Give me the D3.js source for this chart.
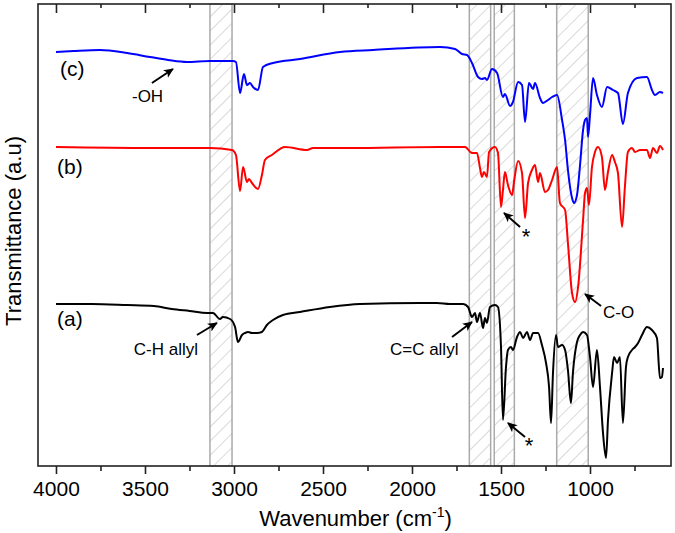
<!DOCTYPE html>
<html><head><meta charset="utf-8">
<script src="https://cdn.jsdelivr.net/npm/d3@7"></script>
<style>body{margin:0;background:#fff}svg{display:block}text{font-family:Arial,"Liberation Sans",sans-serif}</style>
</head><body><div id="chart"></div>
<script>
// wavenumber (cm-1), transmittance (arbitrary units, offset per spectrum)
const spectrumC = [[4000,414],[3900,415],[3753,416],[3600,413],[3472,409],[3370,406],[3264,404],[3135,405],[3006,405],[2989,404],[2966,373],[2944,392],[2927,381],[2910,383],[2893,379],[2865,376],[2837,399],[2781,403],[2629,407],[2404,414],[2219,416],[1843,419],[1758,417],[1719,412],[1691,411],[1663,403],[1629,389],[1607,387],[1590,388],[1579,386],[1551,397],[1522,393],[1489,369],[1478,372],[1449,360],[1433,364],[1404,384],[1382,381],[1365,344],[1343,383],[1320,377],[1309,383],[1281,368],[1264,363],[1236,366],[1213,369],[1185,371],[1157,346],[1140,326],[1124,296],[1101,268],[1090,263],[1073,271],[1056,301],[1039,336],[1028,346],[1017,348],[1011,329],[1000,351],[983,388],[961,371],[933,359],[904,379],[871,376],[843,373],[815,342],[787,373],[736,388],[680,389],[652,376],[635,371],[607,374],[590,373]];
const spectrumB = [[4000,319],[3472,318],[3135,318],[3011,316],[2989,311],[2966,275],[2949,299],[2927,284],[2916,287],[2899,283],[2865,277],[2843,291],[2826,306],[2787,311],[2713,319],[2590,316],[2556,318],[2348,318],[1843,319],[1702,319],[1663,313],[1635,313],[1618,298],[1607,289],[1596,294],[1579,289],[1567,314],[1534,319],[1517,313],[1500,259],[1489,276],[1478,294],[1461,281],[1438,271],[1427,284],[1404,305],[1382,293],[1365,248],[1348,283],[1326,296],[1309,301],[1292,284],[1281,293],[1253,274],[1236,276],[1213,286],[1185,299],[1169,263],[1140,256],[1124,223],[1101,173],[1084,164],[1067,179],[1039,246],[1028,273],[1017,278],[1006,261],[989,299],[972,314],[955,319],[933,309],[916,276],[899,294],[876,311],[860,304],[843,293],[820,239],[804,279],[787,314],[764,318],[747,314],[719,316],[680,316],[663,308],[646,318],[624,313],[607,320],[590,316]];
const spectrumA = [[4000,162],[3800,162],[3600,161],[3450,160],[3350,157],[3250,155],[3150,153],[3118,153],[3079,147],[3062,149],[3022,147],[2994,139],[2978,124],[2955,131],[2938,133],[2921,134],[2899,133],[2871,133],[2843,134],[2815,141],[2781,146],[2725,151],[2629,154],[2461,159],[2292,162],[1955,163],[1860,163],[1787,162],[1713,162],[1685,159],[1663,149],[1646,153],[1635,144],[1618,153],[1601,138],[1590,148],[1579,143],[1562,159],[1534,161],[1517,159],[1500,119],[1489,46],[1472,99],[1461,116],[1444,119],[1433,116],[1410,129],[1393,134],[1376,128],[1354,134],[1337,126],[1320,133],[1292,133],[1270,121],[1247,103],[1230,79],[1219,43],[1208,93],[1191,131],[1180,119],[1157,121],[1140,116],[1124,96],[1107,63],[1096,93],[1073,124],[1056,131],[1039,134],[1017,131],[1000,109],[983,79],[961,116],[944,79],[927,33],[910,8],[899,46],[876,93],[865,109],[848,103],[832,109],[815,43],[798,99],[787,109],[764,116],[747,119],[730,123],[708,131],[680,139],[652,136],[624,128],[607,88],[596,89],[590,98]];
const seriesColors = ["#0000ff","#ff0000","#000000"];
const bands = [[3135,3011],[1678,1558],[1538,1425],[1187,1010]];
const majorTicks = [4000,3500,3000,2500,2000,1500,1000];
const minorTicks = [3750,3250,2750,2250,1750,1250,750];
const seriesLabels = [{t:"(c)",wn:3978,v:390},{t:"(b)",wn:3994,v:292},{t:"(a)",wn:3994,v:140}];
const annotations = [
  {t:"-OH", tx:3573, tv:364, anchor:"start", fs:17, a:[3461,383,3343,397]},
  {t:"C-H allyl", tx:3202, tv:111, anchor:"end", fs:17, a:[3208,131,3096,143]},
  {t:"C=C allyl", tx:2124, tv:111, anchor:"start", fs:17, a:[1775,129,1663,144]},
  {t:"*", tx:1360, tv:222, anchor:"middle", fs:22, a:[1393,239,1483,253]},
  {t:"*", tx:1343, tv:13, anchor:"middle", fs:22, a:[1365,29,1461,43]},
  {t:"C-O", tx:927, tv:148, anchor:"start", fs:17, a:[938,160,1028,172]}
];

const W=675,H=533, L=38,R=671,T=4,B=466;
const svg = d3.select("#chart").append("svg").attr("width",W).attr("height",H);
const x = d3.scaleLinear().domain([4101,545]).range([L,R]);
const y = d3.scaleLinear().domain([0,462]).range([B,T]);

const defs = svg.append("defs");
const pat = defs.append("pattern").attr("id","hatch").attr("patternUnits","userSpaceOnUse")
  .attr("width",10).attr("height",10).attr("patternTransform","rotate(45)");
pat.append("rect").attr("width",10).attr("height",10).attr("fill","#fff");
pat.append("line").attr("x1",0).attr("y1",0).attr("x2",0).attr("y2",10).attr("stroke","#b4b4b4").attr("stroke-width",1);
defs.append("marker").attr("id","arr").attr("viewBox","0 0 10 10").attr("refX",9).attr("refY",5)
  .attr("markerWidth",10).attr("markerHeight",10).attr("markerUnits","userSpaceOnUse").attr("orient","auto")
  .append("path").attr("d","M0,0.5 L10,5 L0,9.5 L2.5,5 z").attr("fill","#000");

// bands
svg.append("g").selectAll("rect").data(bands).join("rect")
  .attr("x",d=>x(d[0])).attr("width",d=>x(d[1])-x(d[0])).attr("y",T).attr("height",B-T)
  .attr("fill","url(#hatch)").attr("stroke","#aaaaaa").attr("stroke-width",1.5);

// spectra
const line = d3.line().x(d=>x(d[0])).y(d=>y(d[1])).curve(d3.curveMonotoneX);
[spectrumC,spectrumB,spectrumA].forEach((s,i)=>{
  svg.append("path").datum(s).attr("d",line).attr("fill","none")
    .attr("stroke",seriesColors[i]).attr("stroke-width",2).attr("stroke-linejoin","round");
});

// frame
svg.append("rect").attr("x",L).attr("y",T).attr("width",R-L).attr("height",B-T)
  .attr("fill","none").attr("stroke","#222").attr("stroke-width",1.6);

// bottom axis (outward ticks)
const gB = svg.append("g").attr("transform",`translate(0,${B})`);
gB.call(d3.axisBottom(x).tickValues(majorTicks).tickSize(8).tickPadding(7).tickFormat(d3.format("d")));
gB.append("g").call(d3.axisBottom(x).tickValues(minorTicks).tickSize(5).tickFormat(""));
gB.selectAll(".domain").remove();
gB.selectAll("line").attr("stroke","#222").attr("stroke-width",1.6);
gB.selectAll("text").attr("font-size",21).attr("fill","#000").attr("font-family",'Arial,"Liberation Sans",sans-serif');
// top axis (inward ticks)
const gT = svg.append("g").attr("transform",`translate(0,${T})`);
gT.call(d3.axisBottom(x).tickValues(majorTicks).tickSize(9).tickFormat(""));
gT.append("g").call(d3.axisBottom(x).tickValues(minorTicks).tickSize(4).tickFormat(""));
gT.selectAll(".domain").remove();
gT.selectAll("line").attr("stroke","#222").attr("stroke-width",1.6);

// axis titles
const xt = svg.append("text").attr("x",(L+R)/2+1).attr("y",526).attr("text-anchor","middle").attr("font-size",22);
xt.append("tspan").text("Wavenumber (cm");
xt.append("tspan").text("-1").attr("font-size",14).attr("dy",-9);
xt.append("tspan").text(")").attr("dy",9);
svg.append("text").attr("transform","translate(21,231) rotate(-90)").attr("text-anchor","middle")
  .attr("font-size",22).text("Transmittance (a.u)");

// series labels
svg.append("g").selectAll("text").data(seriesLabels).join("text")
  .attr("x",d=>x(d.wn)).attr("y",d=>y(d.v)).attr("font-size",21).text(d=>d.t);

// annotations
const ga = svg.append("g");
ga.selectAll("line").data(annotations).join("line")
  .attr("x1",d=>x(d.a[0])).attr("y1",d=>y(d.a[1])).attr("x2",d=>x(d.a[2])).attr("y2",d=>y(d.a[3]))
  .attr("stroke","#000").attr("stroke-width",2).attr("marker-end","url(#arr)");
ga.selectAll("text").data(annotations).join("text")
  .attr("x",d=>x(d.tx)).attr("y",d=>y(d.tv)).attr("text-anchor",d=>d.anchor).attr("font-size",d=>d.fs).text(d=>d.t);
</script></body></html>
